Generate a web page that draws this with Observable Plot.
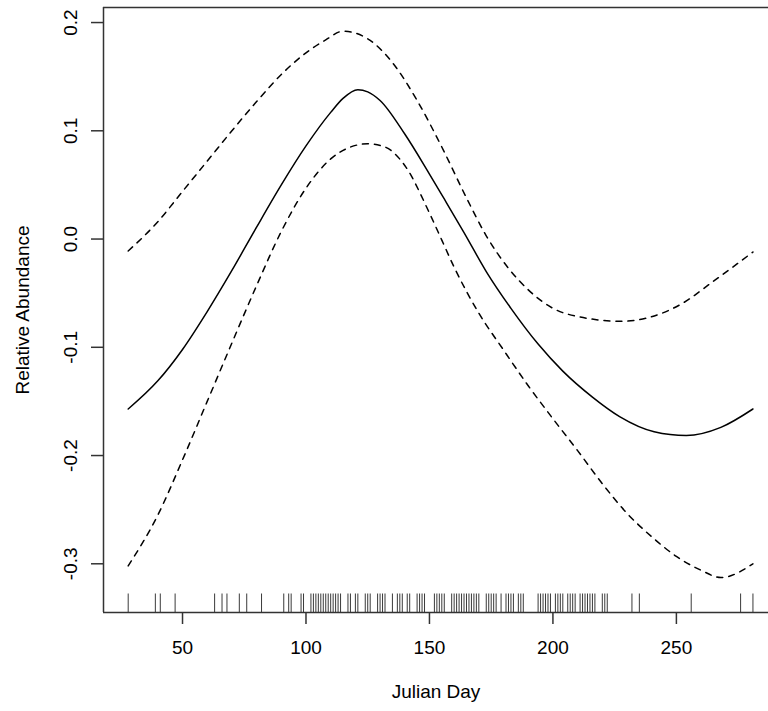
<!DOCTYPE html>
<html>
<head>
<meta charset="utf-8">
<script src="https://cdn.jsdelivr.net/npm/d3@7"></script>
<script src="https://cdn.jsdelivr.net/npm/@observablehq/plot@0.6"></script>
<style>
  html, body { margin: 0; padding: 0; background: white; overflow: hidden; }
  #chart { width: 768px; height: 711px; overflow: hidden; }
</style>
</head>
<body>
<div id="chart"></div>
<script>
// fitted smooth (solid line): Julian day and value
const fitDays = [28, 40, 50, 60, 70, 80, 90, 100, 110, 115, 121, 125, 130, 140, 150, 156, 164, 173, 183, 194, 204, 216, 227, 241, 254, 268, 281];
const fitVals = [-0.157, -0.131, -0.102, -0.067, -0.029, 0.011, 0.050, 0.086, 0.117, 0.130, 0.138, 0.136, 0.128, 0.097, 0.060, 0.037, 0.006, -0.030, -0.064, -0.097, -0.122, -0.146, -0.164, -0.178, -0.1815, -0.174, -0.157];
// upper confidence limit (dashed)
const upperDays = [28, 40, 50, 60, 70, 80, 90, 100, 108, 115, 125, 135, 145, 155, 165, 173, 182, 191, 200, 211, 228, 238, 252, 265, 281];
const upperVals = [-0.011, 0.016, 0.044, 0.072, 0.100, 0.127, 0.152, 0.172, 0.184, 0.192, 0.185, 0.163, 0.128, 0.085, 0.038, 0.003, -0.027, -0.049, -0.064, -0.072, -0.076, -0.073, -0.060, -0.039, -0.012];
// lower confidence limit (dashed)
const lowerDays = [28, 40, 50, 60, 70, 80, 90, 100, 110, 118, 125, 132, 140, 150, 155, 160, 170, 180, 190, 200, 210, 220, 230, 240, 250, 260, 268, 281];
const lowerVals = [-0.302, -0.255, -0.204, -0.150, -0.096, -0.043, 0.007, 0.047, 0.074, 0.085, 0.088, 0.085, 0.068, 0.024, -0.001, -0.026, -0.0685, -0.1025, -0.1355, -0.166, -0.1955, -0.226, -0.2534, -0.275, -0.2932, -0.306, -0.3127, -0.300];
// observation days (rug)
const rugDays = [28, 39, 41, 47, 63, 66, 68, 73, 76, 82, 91, 93, 94, 98, 99, 102, 103, 104, 105, 106, 107, 108,
  109, 110, 111, 112, 113, 114, 117, 118, 120, 121, 124, 125, 126, 129, 130, 131, 132, 135, 137, 138, 139, 141, 142,
  145, 146, 147, 148, 152, 153, 154, 155, 156, 159, 160, 161, 162, 163, 164, 165, 166, 167, 168, 169, 170,
  173, 174, 175, 176, 177, 179, 181, 182, 183, 184, 186, 187, 188, 194, 195, 196, 197, 198, 199,
  201, 202, 203, 204, 206, 207, 208, 209, 211, 212, 213, 214, 215, 216, 217, 220, 221, 222, 232, 235, 256, 276, 281];
const xTicks = [50, 100, 150, 200, 250];
const yTicks = [-0.3, -0.2, -0.1, 0.0, 0.1, 0.2];
const yTickLabels = ["-0.3", "-0.2", "-0.1", "0.0", "0.1", "0.2"];
const xTitle = "Julian Day";
const yTitle = "Relative Abundance";

const xDomain = [18, 287.3];
const yDomain = [-0.345, 0.2139];

const toRows = (ds, vs) => ds.map((d, i) => ({day: d, value: vs[i]}));
const fitRows = toRows(fitDays, fitVals);
const upperRows = toRows(upperDays, upperVals);
const lowerRows = toRows(lowerDays, lowerVals);

const W = 768, H = 711, mT = 7, mB = 99, mL = 103;
const frameH = H - mT - mB;
const rugLen = 18.5;
const FS = 19;

const chart = Plot.plot({
  width: W, height: H,
  marginLeft: mL, marginRight: 0, marginTop: mT, marginBottom: mB,
  style: {fontFamily: "'Liberation Sans', Arial, Helvetica, sans-serif", fontSize: FS + "px", background: "white", color: "black", overflow: "hidden"},
  x: {domain: xDomain},
  y: {domain: yDomain},
  marks: [
    // rug
    Plot.ruleX(rugDays, {x: d => d, insetTop: frameH - rugLen, stroke: "#3a3a3a", strokeWidth: 1}),
    // curves
    Plot.line(upperRows, {x: "day", y: "value", curve: "monotone-x", stroke: "black", strokeWidth: 1.5, strokeDasharray: "6,6"}),
    Plot.line(lowerRows, {x: "day", y: "value", curve: "monotone-x", stroke: "black", strokeWidth: 1.5, strokeDasharray: "6,6"}),
    Plot.line(fitRows, {x: "day", y: "value", curve: "monotone-x", stroke: "black", strokeWidth: 1.5}),
    // box (left, top, bottom)
    Plot.ruleX([xDomain[0]], {stroke: "#333", strokeWidth: 1.5}),
    Plot.ruleY([yDomain[0]], {stroke: "#333", strokeWidth: 1.5}),
    Plot.ruleY([yDomain[1]], {stroke: "#333", strokeWidth: 1.5}),
    // axes tick marks
    Plot.axisX({ticks: xTicks, tickSize: 12, tickFormat: () => "", label: null, stroke: "#333", strokeWidth: 1.5}),
    Plot.axisY({ticks: yTicks, tickSize: 12, tickFormat: () => "", label: null, stroke: "#333", strokeWidth: 1.5}),
    // tick labels
    Plot.text(xTicks, {x: d => d, text: d => String(d), frameAnchor: "bottom", dy: 41, textAnchor: "middle", fontSize: FS, fill: "black"}),
    Plot.text(yTicks, {y: d => d, text: (d, i) => yTickLabels[i], frameAnchor: "left", dx: -33, rotate: -90, textAnchor: "middle", fontSize: FS, fill: "black"}),
    // titles
    Plot.text([xTitle], {text: d => d, frameAnchor: "bottom", dy: 85, textAnchor: "middle", fontSize: FS, fill: "black"}),
    Plot.text([yTitle], {text: d => d, frameAnchor: "left", dx: -81, rotate: -90, textAnchor: "middle", fontSize: FS, fill: "black"})
  ]
});
document.getElementById("chart").appendChild(chart);
</script>
</body>
</html>
